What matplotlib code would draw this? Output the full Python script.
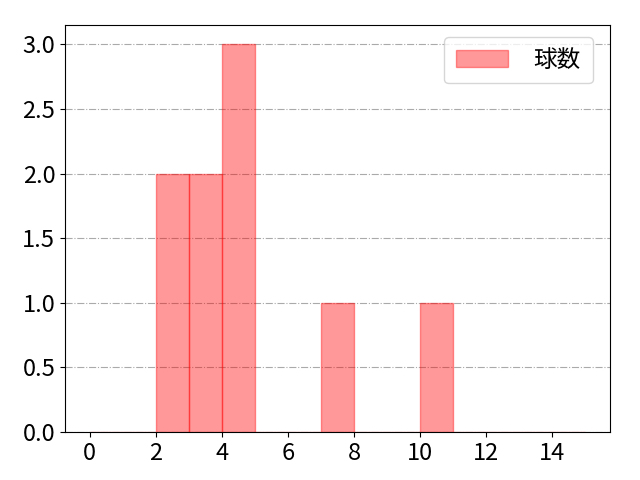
import numpy as np
import matplotlib
matplotlib.use("Agg")
import matplotlib.pyplot as plt

plt.rcParams['font.family'] = ['Noto Sans CJK JP', 'DejaVu Sans']
plt.rcParams['font.size'] = 17

# 球数の値(各ビンの度数から復元)
pitch_counts = [2, 2, 3, 3, 4, 4, 4, 7, 10]
bin_edges = list(range(0, 16))
label = "球数"

fig, ax = plt.subplots(figsize=(6.4, 4.8), dpi=100)
ax.hist(pitch_counts, bins=bin_edges, color="red", alpha=0.4,
        edgecolor="red", label=label)
ax.set_xticks(range(0, 16, 2))
ax.grid(axis="y", linestyle="-.", color="#aaaaaa")
ax.set_axisbelow(True)
ax.legend(loc="upper right", handlelength=2.2, handletextpad=1.1,
          borderpad=0.5, bbox_to_anchor=(0.99, 1.0))

fig.subplots_adjust(left=65/640, right=610/640, top=1-25/480, bottom=1-432/480)
fig.savefig("out.png")
